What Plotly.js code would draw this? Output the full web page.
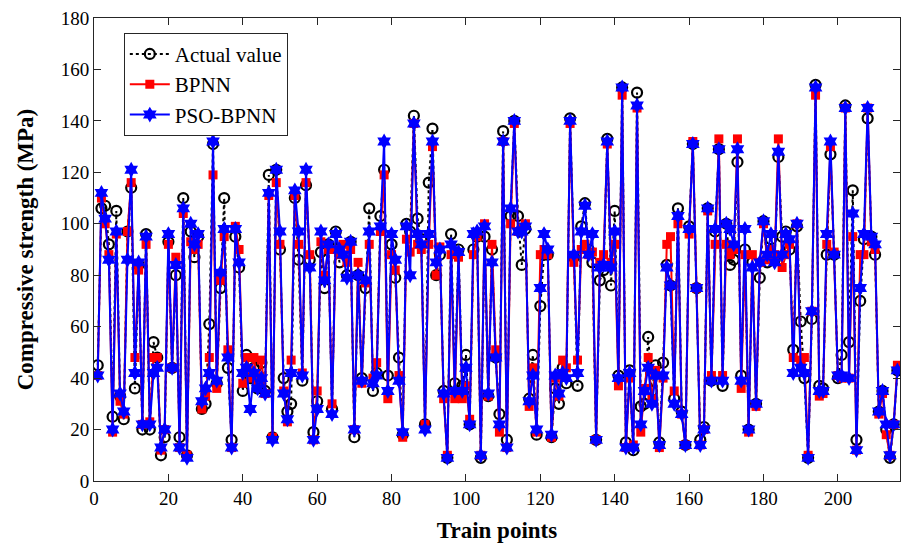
<!DOCTYPE html>
<html>
<head>
<meta charset="utf-8">
<script src="https://cdn.plot.ly/plotly-3.0.1.min.js"></script>
<style>
html,body{margin:0;padding:0;background:#fff;}
#chart{width:902px;height:549px;}
</style>
</head>
<body>
<div id="chart"></div>
<script>
const actualValue = [45,106,107,92,25,105,33,24,97,114,36,84,20,96,20,54,48,10,17,93,
44,80,17,110,10,97,87,95,28,30,61,131,38,75,110,44,16,95,83,35,
49,40,44,36,46,35,119,17,121,90,40,27,30,110,86,39,115,86,19,31,
89,75,92,28,97,85,90,80,93,17,80,40,75,106,35,42,103,121,41,92,
79,48,18,100,97,142,102,94,22,116,137,80,88,35,9,96,38,90,37,49,
22,90,95,9,95,33,90,48,26,136,16,103,140,103,84,98,32,49,18,68,
88,88,17,36,30,44,38,141,87,37,99,108,90,85,16,78,82,133,76,105,
41,153,15,43,12,151,29,30,56,35,45,15,46,84,76,32,106,27,14,99,
131,75,16,21,106,39,97,129,37,100,84,86,124,41,90,20,85,30,79,101,
85,94,86,126,95,97,90,51,99,62,40,9,63,154,37,36,88,127,88,40,
49,146,54,113,16,70,94,141,95,88,27,35,20,9,22,43];

const bpnn = [41,110,100,88,19,96,31,26,97,116,48,82,22,92,23,48,48,12,20,92,
44,87,13,104,10,93,90,92,28,33,48,119,36,78,95,51,13,99,90,38,
48,40,48,38,47,34,111,17,116,92,35,23,47,111,92,42,116,88,16,35,
93,80,90,30,90,88,92,85,90,20,85,38,77,92,40,46,97,119,32,88,
82,41,17,94,89,139,92,90,22,92,130,80,91,32,10,88,32,87,32,37,
24,88,95,10,100,33,92,51,19,132,13,100,139,97,98,100,29,44,19,88,
90,88,17,40,33,47,44,139,85,47,90,92,88,89,16,85,88,131,85,92,
37,150,13,40,14,145,19,36,48,32,43,13,40,92,95,35,100,26,14,96,
132,75,14,20,105,41,92,133,41,92,88,90,133,36,88,19,88,29,85,100,
86,90,88,133,83,88,92,48,100,47,48,10,66,150,33,34,92,130,89,41,
40,145,40,95,12,88,88,145,93,90,26,34,18,10,22,45];

const psoBpnn = [41,112,102,86,20,97,34,27,86,121,42,85,22,95,22,42,44,13,20,96,
44,84,13,106,9,100,92,96,31,36,42,132,39,81,98,48,13,98,85,42,
44,28,42,36,40,34,112,16,121,97,34,24,42,113,97,41,121,83,16,28,
97,78,92,26,96,90,88,79,93,20,80,39,78,97,38,41,99,132,35,96,
86,39,19,99,80,139,96,92,20,96,132,85,90,34,9,92,35,89,35,44,
22,96,97,10,99,34,85,48,22,132,13,106,140,97,97,99,31,41,20,75,
96,90,18,41,34,42,40,140,88,42,97,107,88,96,16,83,84,132,83,97,
40,153,13,42,13,146,22,35,44,30,41,14,41,83,76,30,103,26,14,98,
131,75,14,20,106,39,98,129,39,100,98,92,129,39,98,20,83,30,85,101,
88,96,85,128,88,96,94,42,100,44,42,9,66,153,35,35,96,132,88,41,
41,145,40,104,12,75,96,145,95,92,27,35,22,10,22,43];

const trainPoints = actualValue.map((_, i) => i + 1);
const xTicks = [0,20,40,60,80,100,120,140,160,180,200];
const yTicks = [0,20,40,60,80,100,120,140,160,180];

const serif = "Liberation Serif, Times New Roman, serif";

const traces = [
  {
    x: trainPoints, y: actualValue, name: 'Actual value', type: 'scatter', mode: 'lines+markers',
    line: {color: '#000000', width: 2, dash: 'dot'},
    marker: {symbol: 'circle-open', size: 10, color: '#000000', line: {width: 2.2, color: '#000000'}}
  },
  {
    x: trainPoints, y: bpnn, name: 'BPNN', type: 'scatter', mode: 'lines+markers',
    line: {color: '#ff0000', width: 2},
    marker: {symbol: 'square', size: 9, color: '#ff0000'}
  },
  {
    x: trainPoints, y: psoBpnn, name: 'PSO-BPNN', type: 'scatter', mode: 'lines+markers',
    line: {color: '#0000ff', width: 2},
    marker: {symbol: 'hexagram', size: 12, color: '#0000ff'}
  }
];

const axisCommon = {
  showline: true, linecolor: '#262626', linewidth: 1, mirror: 'ticks',
  ticks: 'inside', ticklen: 7, tickwidth: 1, tickcolor: '#262626',
  showgrid: false, zeroline: false,
  tickfont: {family: serif, size: 19, color: '#000000'}
};

const layout = {
  width: 902, height: 549,
  paper_bgcolor: '#ffffff', plot_bgcolor: '#ffffff',
  margin: {l: 94, r: 2, t: 18, b: 68},
  showlegend: true,
  legend: {
    x: 0.037, y: 0.968, xanchor: 'left', yanchor: 'top',
    bgcolor: '#ffffff', bordercolor: '#262626', borderwidth: 1,
    font: {family: serif, size: 21, color: '#000000'},
    tracegroupgap: 0, itemwidth: 40
  },
  xaxis: Object.assign({}, axisCommon, {
    range: [0, 216.7], tickvals: xTicks, ticktext: xTicks.map(String),
    title: {text: '<b>Train points</b>', font: {family: serif, size: 23, color: '#000000'}, standoff: 14}
  }),
  yaxis: Object.assign({}, axisCommon, {
    range: [0, 180], tickvals: yTicks, ticktext: yTicks.map(String),
    title: {text: '<b>Compressive strength (MPa)</b>', font: {family: serif, size: 23, color: '#000000'}, standoff: 20}
  })
};

Plotly.newPlot('chart', traces, layout, {displayModeBar: false, staticPlot: true});
</script>
</body>
</html>
